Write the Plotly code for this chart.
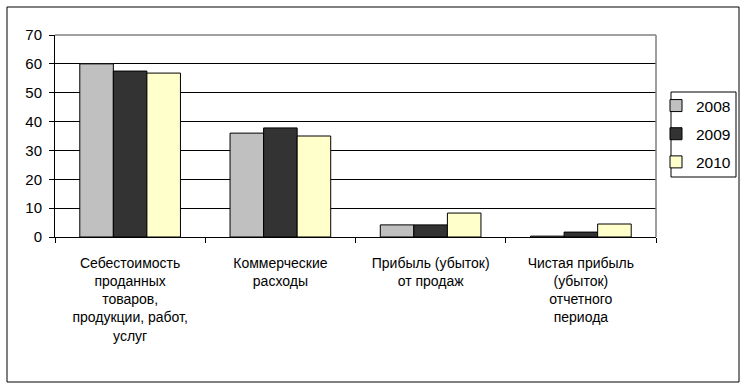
import plotly.graph_objects as go

categories = [
    "Себестоимость<br>проданных<br>товаров,<br>продукции, работ,<br>услуг",
    "Коммерческие<br>расходы",
    "Прибыль (убыток)<br>от продаж",
    "Чистая прибыль<br>(убыток)<br>отчетного<br>периода",
]
years = ["2008", "2009", "2010"]
values_2008 = [60.0, 36.0, 4.2, 0.3]
values_2009 = [57.5, 37.8, 4.2, 1.7]
values_2010 = [56.8, 35.0, 8.3, 4.5]
colors = ["#C0C0C0", "#333333", "#FFFFCC"]

series = [values_2008, values_2009, values_2010]

fig = go.Figure()
for name, vals, col in zip(years, series, colors):
    fig.add_trace(go.Bar(
        x=categories, y=vals, name=name, legendgroup=name,
        marker=dict(color=col, line=dict(color="black", width=1)),
    ))

W, H = 747, 389
L, R, T, B = 55, 656, 35, 237
pw, ph = R - L, B - T

def px(x):
    return (x - L) / pw

def py(y):
    return (B - y) / ph

fig.update_layout(
    width=W, height=H,
    margin=dict(l=L, r=W - R, t=T, b=H - B, autoexpand=False),
    paper_bgcolor="white", plot_bgcolor="white",
    barmode="group", bargap=0.33, bargroupgap=0,
    font=dict(family="Liberation Sans, Arial, sans-serif", size=15, color="black"),
    showlegend=True,
    legend=dict(
        x=px(656), y=py(89), xanchor="left", yanchor="top",
        borderwidth=0, bgcolor="rgba(0,0,0,0)",
        font=dict(size=15.5), tracegroupgap=5, itemwidth=30,
    ),
    xaxis=dict(
        showline=True, linecolor="black", linewidth=1,
        ticks="outside", ticklen=5, tickcolor="black", tickson="boundaries",
        tickfont=dict(family="Liberation Sans, Arial, sans-serif", size=14),
        ticklabelstandoff=13, tickangle=0,
    ),
    yaxis=dict(
        range=[0, 70], dtick=10, tickmode="linear", tick0=0,
        showline=True, linecolor="black", linewidth=1,
        ticks="outside", ticklen=5, tickcolor="black",
        showgrid=True, gridcolor="black", gridwidth=1, zeroline=False,
        tickfont=dict(size=15), ticklabelstandoff=4,
    ),
    shapes=[
        dict(type="line", xref="paper", yref="paper", x0=0, x1=1, y0=1, y1=1,
             line=dict(color="#808080", width=1.5), layer="above"),
        dict(type="line", xref="paper", yref="paper", x0=1, x1=1, y0=0, y1=1,
             line=dict(color="#808080", width=1.5), layer="above"),
        dict(type="rect", xref="paper", yref="paper",
             x0=px(7), x1=px(739), y0=py(382), y1=py(7),
             line=dict(color="black", width=1), layer="above"),
        dict(type="rect", xref="paper", yref="paper",
             x0=px(671), x1=px(736), y0=py(177), y1=py(92),
             line=dict(color="black", width=1), fillcolor="white", layer="below"),
    ],
)

fig.write_html(
    "out.html",
    config={"displayModeBar": False},
    post_script="document.body.style.margin='0';document.body.style.overflow='hidden';",
)
